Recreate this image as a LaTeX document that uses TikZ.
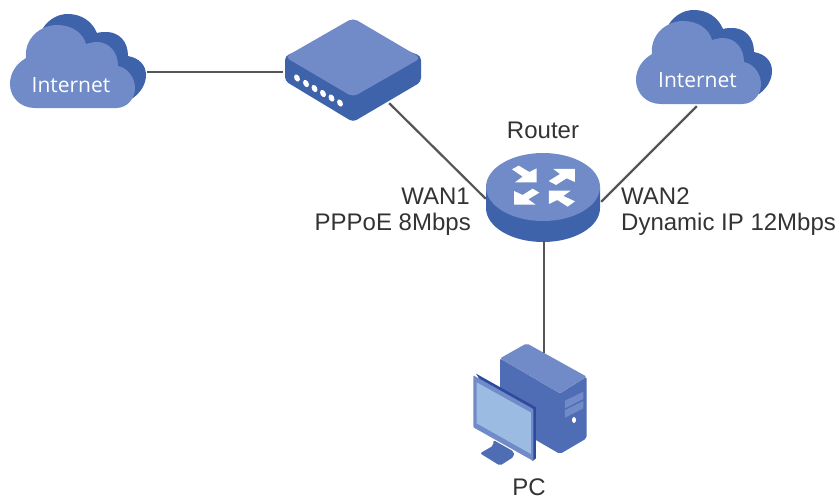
\documentclass[tikz,border=0pt]{standalone}
\usepackage{fontspec}
\setmainfont{Liberation Sans}
\newfontfamily\cloudfont{Open Sans}
\definecolor{lightblue}{HTML}{708BC7}
\definecolor{darkblue}{HTML}{3F63AB}
\definecolor{midblue}{HTML}{4F6DB5}
\definecolor{screenblue}{HTML}{9CBBE3}
\definecolor{edgeblue}{HTML}{2E4A9E}
\definecolor{wire}{HTML}{555555}
\definecolor{ink}{HTML}{333333}
\tikzset{
  wirelink/.style={draw=wire,line width=2.2pt},
  port/.style={inner sep=0pt,minimum size=0pt},
  label/.style={font=\fontsize{24}{26}\selectfont,text=ink,inner sep=0pt},
  cloudlabel/.style={font=\cloudfont\fontsize{21}{24}\selectfont,text=white,inner sep=0pt,anchor=base},
  cloud/.pic={
    \fill[darkblue] (43,28) .. controls (49,19) and (58,14) .. (68,14)
      .. controls (81,14) and (92,21) .. (97,33)
      .. controls (100,32) and (104,32) .. (108,32)
      .. controls (119,33) and (128,41) .. (128,56)
      .. controls (139,58) and (146,65) .. (146,75)
      .. controls (146,84) and (141,92) .. (133,98) -- (110,100) -- cycle;
    \fill[lightblue] (35,108)
      .. controls (20,108) and (10,97) .. (10,84)
      .. controls (10,73) and (16,64) .. (26,58)
      .. controls (24,39) and (40,25) .. (57,25)
      .. controls (72,25) and (83,33) .. (86,44)
      .. controls (90,43) and (93,42) .. (97,42)
      .. controls (109,42) and (118,52) .. (118,66)
      .. controls (128,68) and (135,78) .. (135,88)
      .. controls (135,99) and (127,108) .. (116,108) -- cycle;
  }
}
\begin{document}
\begin{tikzpicture}[x=1pt,y=-1pt]
\useasboundingbox (0,0) rectangle (838,499);
% left cloud
\pic at (0,0) {cloud};
\node[cloudlabel] (cloudAtext) at (71,92) {Internet};
% right cloud
\pic at (626,-4) {cloud};
\node[cloudlabel] (cloudBtext) at (697.5,87) {Internet};
% modem
\fill[darkblue,rounded corners=4pt] (285,56) -- (285,81) -- (353,122) -- (421,82) -- (421,56) -- (353,30) -- cycle;
\fill[lightblue,rounded corners=5pt] (285,57) -- (353,18) -- (421,58) -- (353,97) -- cycle;
\foreach \px/\py in {297/78,306/83.5,314.5/88.5,323/93.5,331.5/98,340/103}
  \fill[white,rotate around={30:(\px,\py)}] (\px,\py) ellipse (2.6pt and 3.8pt);
% router
\fill[darkblue] (486,187) -- (486,208) arc[start angle=180,end angle=360,x radius=57,y radius=-34] -- (600,187) -- cycle;
\fill[lightblue] (543,187) ellipse (57pt and 34pt);
\begin{scope}[shift={(470,0)},x=0.3333pt,y=-0.3333pt]
\fill[white] (126,508) -- (146,497) -- (178,516) -- (200,505) -- (200,547) -- (135,547) -- (158,530) -- cycle;
\fill[white] (236,543) -- (258,555) -- (290,535) -- (315,546) -- (315,507) -- (250,507) -- (270,522) -- cycle;
\fill[white] (208,578) -- (188,566) -- (158,585) -- (132,573) -- (132,614) -- (197,614) -- (175,598) -- cycle;
\fill[white] (315,604) -- (293,620) -- (262,600) -- (237,612) -- (237,572) -- (302,572) -- (280,588) -- cycle;
\end{scope}
% PC
\begin{scope}[shift={(450,330)},x=0.3333pt,y=-0.3333pt]
\fill[midblue,rounded corners=2pt] (150,85) -- (330,190) -- (410,140) -- (410,325) -- (330,372) -- (150,268) -- cycle;
\fill[lightblue,rounded corners=2pt] (150,85) -- (230,40) -- (410,140) -- (330,190) -- cycle;
\fill[lightblue] (345,212) -- (400,185) -- (400,207) -- (345,235) -- cycle;
\fill[lightblue] (345,240) -- (400,213) -- (400,235) -- (345,263) -- cycle;
\fill[white] (372,270) ellipse (2pt and 3pt);
\fill[midblue,rounded corners=2pt] (90,370) -- (130,347) -- (130,330) -- (192,365) -- (192,380) -- (150,407) -- cycle;
\fill[edgeblue] (78,131) -- (258,232) -- (258,385) -- (248,393) -- cycle;
\fill[lightblue,rounded corners=1pt] (70,136) -- (250,237) -- (250,393) -- (70,292) -- cycle;
\fill[screenblue] (80,157) -- (243,248) -- (243,372) -- (80,280) -- cycle;
\end{scope}
% ports
\node[port] (cloudAport) at (147,72) {};
\node[port] (modemW) at (283,72) {};
\node[port] (modemS) at (389,103) {};
\node[port] (routerW) at (486,199) {};
\node[port] (routerE) at (601,202) {};
\node[port] (cloudBport) at (697,106) {};
\node[port] (routerS) at (544,241) {};
\node[port] (pcN) at (544,353) {};
\draw[wirelink] (cloudAport) -- (modemW);
\draw[wirelink] (modemS) -- (routerW);
\draw[wirelink] (routerE) -- (cloudBport);
\draw[wirelink] (routerS) -- (pcN);
% labels
\node[label,anchor=base] (routerlabel) at (543,138) {Router};
\node[label,anchor=base east] (wan1) at (470,204) {WAN1};
\node[label,anchor=base east] (pppoe) at (471,230) {PPPoE 8Mbps};
\node[label,anchor=base west] (wan2) at (621,204) {WAN2};
\node[label,anchor=base west] (dyn) at (621,230) {Dynamic IP 12Mbps};
\node[label,anchor=base] (pclabel) at (529,495) {PC};
\end{tikzpicture}
\end{document}
